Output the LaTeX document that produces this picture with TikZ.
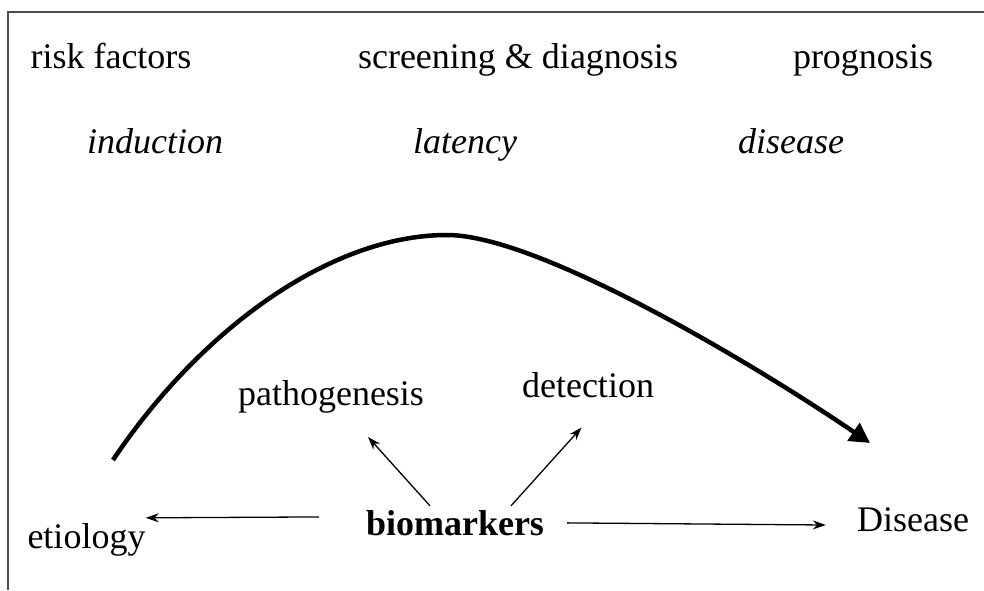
\documentclass[tikz,border=0pt]{standalone}
\usepackage{fontspec}
\setmainfont{Liberation Serif}
\usetikzlibrary{arrows.meta}
\begin{document}
\begin{tikzpicture}[x={(1pt,0)},y={(0,-1pt)},
  lbl/.style={inner sep=0pt,anchor=base,font=\fontsize{36}{43}\selectfont},
  ilbl/.style={lbl,font=\fontsize{36}{43}\selectfont\itshape},
  blbl/.style={lbl,font=\fontsize{36}{43}\selectfont\bfseries},
  arr/.style={line width=1.3pt,-{Stealth[length=13pt,width=9pt]}},
  frame/.style={line width=1.5pt,draw=black!70},
  curve/.style={line width=4.5pt,-{Triangle[length=20pt,width=21pt]}}]
\useasboundingbox (0,0) rectangle (984,590);
\draw[frame] (984,12) -- (8,12) -- (8,590);
% top labels
\node[lbl] (risk) at (111,68) {risk factors};
\node[lbl] (screen) at (518,68) {screening \& diagnosis};
\node[lbl] (prog) at (863,68) {prognosis};
\node[ilbl] (induct) at (155,153) {induction};
\node[ilbl] (lat) at (465,153) {latency};
\node[ilbl] (dis) at (791,153) {disease};
% lower labels
\node[lbl] (path) at (331,405) {pathogenesis};
\node[lbl] (detect) at (588,397) {detection};
\node[blbl] (bio) at (455,535) {biomarkers};
\node[lbl] (etio) at (86.5,548) {etiology};
\node[lbl] (Dis) at (913,531) {Disease};
% curve
\coordinate (cstart) at (113,460);
\coordinate (cpeak) at (447,235);
\coordinate (cend) at (870,443);
\draw[curve] (cstart) .. controls (200,330) and (330,235) .. (cpeak)
  .. controls (540,235) and (760,368) .. (cend);
% arrows
\draw[arr,shorten <=47pt] ([yshift=6pt]bio.west) -- ([yshift=5pt]etio.north east);
\draw[arr,shorten <=23pt,shorten >=31pt] (bio.east) -- ([yshift=-6pt]Dis.west);
\draw[arr] ([xshift=-25pt,yshift=4pt]bio.north) -- ([xshift=37pt,yshift=-24pt]path.south);
\draw[arr] ([xshift=56pt,yshift=4pt]bio.north) -- ([xshift=-6.5pt,yshift=-30pt]detect.south);
\end{tikzpicture}
\end{document}
